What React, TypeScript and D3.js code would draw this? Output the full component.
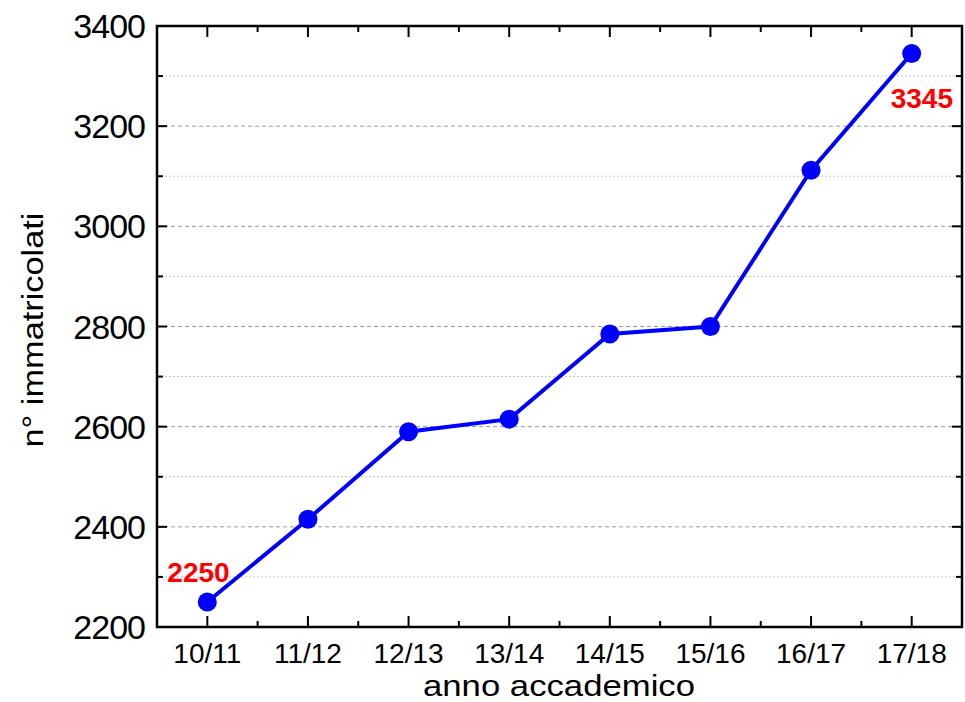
import React, { useEffect, useRef } from 'react';
import * as d3 from 'd3';

const years = ['10/11', '11/12', '12/13', '13/14', '14/15', '15/16', '16/17', '17/18'];
const enrolled = [2250, 2415, 2590, 2615, 2785, 2800, 3112, 3345];
const yMajorTicks = [2200, 2400, 2600, 2800, 3000, 3200, 3400];
const yMinorTicks = [2300, 2500, 2700, 2900, 3100, 3300];

const WIDTH = 965;
const HEIGHT = 702;
const FONT = 'Liberation Sans, Arial, sans-serif';

const App: React.FC = () => {
  const svgRef = useRef<SVGSVGElement>(null);

  useEffect(() => {
    if (!svgRef.current) return;
    const svg = d3.select(svgRef.current);
    svg.selectAll('*').remove();

    const left = 157, right = 962, top = 26, bottom = 627;

    const x = d3.scaleLinear().domain([-0.5, years.length - 0.5]).range([left, right]);
    const y = d3.scaleLinear().domain([2200, 3400]).range([bottom, top]);

    // grid lines
    svg.append('g').selectAll('line').data(yMinorTicks).join('line')
      .attr('x1', left).attr('x2', right)
      .attr('y1', d => y(d)).attr('y2', d => y(d))
      .attr('stroke', '#c4c4c4').attr('stroke-width', 1).attr('stroke-dasharray', '2,2');
    svg.append('g').selectAll('line').data(yMajorTicks.slice(1, -1)).join('line')
      .attr('x1', left).attr('x2', right)
      .attr('y1', d => y(d)).attr('y2', d => y(d))
      .attr('stroke', '#999').attr('stroke-width', 1).attr('stroke-dasharray', '4,3');

    // ticks (inward) on all four sides
    const ticks = svg.append('g').attr('stroke', 'black').attr('stroke-width', 2);
    const tickY = (vals: number[], len: number) => {
      vals.forEach(v => {
        ticks.append('line').attr('x1', left).attr('x2', left + len).attr('y1', y(v)).attr('y2', y(v));
        ticks.append('line').attr('x1', right).attr('x2', right - len).attr('y1', y(v)).attr('y2', y(v));
      });
    };
    tickY(yMajorTicks, 10);
    tickY(yMinorTicks, 6);
    const tickX = (vals: number[], len: number) => {
      vals.forEach(v => {
        ticks.append('line').attr('y1', bottom).attr('y2', bottom - len).attr('x1', x(v)).attr('x2', x(v));
        ticks.append('line').attr('y1', top).attr('y2', top + len).attr('x1', x(v)).attr('x2', x(v));
      });
    };
    tickX(d3.range(years.length), 11);
    tickX(d3.range(years.length - 1).map(i => i + 0.5), 6);

    // frame
    svg.append('rect')
      .attr('x', left).attr('y', top)
      .attr('width', right - left).attr('height', bottom - top)
      .attr('fill', 'none').attr('stroke', 'black').attr('stroke-width', 2.5);

    // tick labels
    svg.append('g').selectAll('text').data(yMajorTicks).join('text')
      .attr('x', 145).attr('y', d => y(d) + 12)
      .attr('text-anchor', 'end')
      .style('font-family', FONT).style('font-size', '34px').style('letter-spacing', '-1px')
      .text(d => d);
    svg.append('g').selectAll('text').data(years).join('text')
      .attr('x', (_, i) => x(i)).attr('y', 663)
      .attr('text-anchor', 'middle')
      .style('font-family', FONT).style('font-size', '28px')
      .text(d => d);

    // axis titles
    svg.append('text')
      .attr('x', 559).attr('y', 696)
      .attr('text-anchor', 'middle')
      .attr('textLength', 272).attr('lengthAdjust', 'spacingAndGlyphs')
      .style('font-family', FONT).style('font-size', '30px')
      .text('anno accademico');
    svg.append('text')
      .attr('transform', 'translate(43,330) rotate(-90)')
      .attr('text-anchor', 'middle')
      .attr('textLength', 235).attr('lengthAdjust', 'spacingAndGlyphs')
      .style('font-family', FONT).style('font-size', '30px')
      .text('n° immatricolati');

    // series
    const line = d3.line<number>().x((_, i) => x(i)).y(d => y(d));
    svg.append('path')
      .datum(enrolled)
      .attr('d', line)
      .attr('fill', 'none').attr('stroke', '#0000ff').attr('stroke-width', 4);
    svg.append('g').selectAll('circle').data(enrolled).join('circle')
      .attr('cx', (_, i) => x(i)).attr('cy', d => y(d)).attr('r', 9.5)
      .attr('fill', '#0000ff');

    // first / last value labels
    const last = enrolled.length - 1;
    svg.append('text')
      .attr('x', x(0) - 40).attr('y', y(enrolled[0]) - 20)
      .style('font-family', FONT).style('font-size', '28px').style('font-weight', 'bold')
      .attr('fill', '#ff0000')
      .text(enrolled[0]);
    svg.append('text')
      .attr('x', x(last) - 21).attr('y', y(enrolled[last]) + 54)
      .style('font-family', FONT).style('font-size', '28px').style('font-weight', 'bold')
      .attr('fill', '#ff0000')
      .text(enrolled[last]);
  }, []);

  return (
    <svg
      ref={svgRef}
      width={WIDTH}
      height={HEIGHT}
      style={{ position: 'absolute', left: 0, top: 0, background: 'white' }}
    />
  );
};

export default App;
